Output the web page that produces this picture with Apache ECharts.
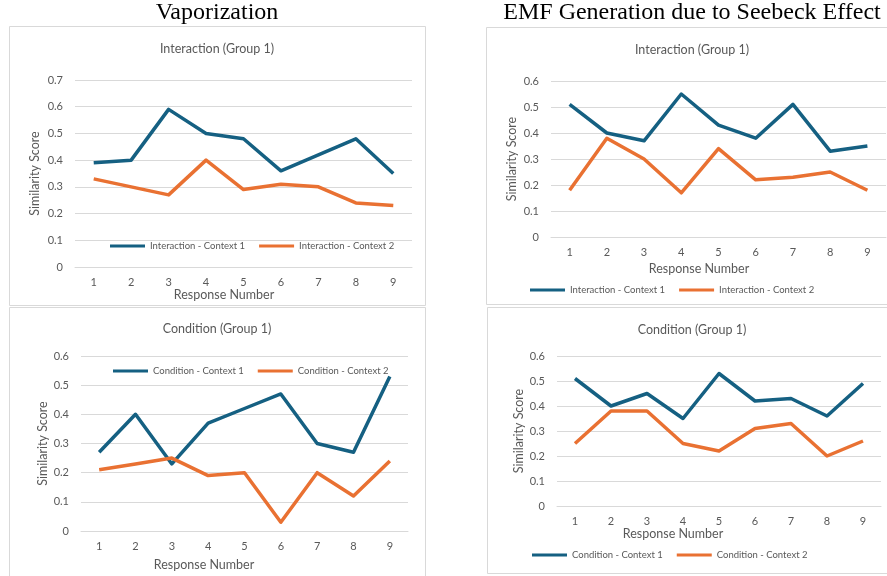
<!DOCTYPE html>
<html>
<head>
<meta charset="utf-8">
<title>Similarity Score</title>
<script src="https://cdn.jsdelivr.net/npm/echarts@6/dist/echarts.min.js"></script>
<style>
  html, body { margin: 0; padding: 0; background: #fff; }
  #main { width: 887px; height: 576px; }
</style>
</head>
<body>
<div id="main"></div>
<script>
// x categories
const responses = ['1', '2', '3', '4', '5', '6', '7', '8', '9'];

// Vaporization
const vapInteraction1 = [0.39, 0.40, 0.59, 0.50, 0.48, 0.36, 0.42, 0.48, 0.35];
const vapInteraction2 = [0.33, 0.30, 0.27, 0.40, 0.29, 0.31, 0.30, 0.24, 0.23];
const vapCondition1 = [0.27, 0.40, 0.23, 0.37, 0.42, 0.47, 0.30, 0.27, 0.53];
const vapCondition2 = [0.21, 0.23, 0.25, 0.19, 0.20, 0.03, 0.20, 0.12, 0.24];

// EMF Generation due to Seebeck Effect
const emfInteraction1 = [0.51, 0.40, 0.37, 0.55, 0.43, 0.38, 0.51, 0.33, 0.35];
const emfInteraction2 = [0.18, 0.38, 0.30, 0.17, 0.34, 0.22, 0.23, 0.25, 0.18];
const emfCondition1 = [0.51, 0.40, 0.45, 0.35, 0.53, 0.42, 0.43, 0.36, 0.49];
const emfCondition2 = [0.25, 0.38, 0.38, 0.25, 0.22, 0.31, 0.33, 0.20, 0.26];

const yMax = [0.7, 0.6, 0.6, 0.6];

const BLUE = '#156082';
const ORANGE = '#E97132';
const GRAY = '#595959';
const GRID = '#d9d9d9';
const FONT = 'Lato, "Open Sans", sans-serif';

// grid rect + text spots for each panel
const panels = [
  { left: 75, top: 80, width: 337, height: 187, yGap: 34, legendX: 110, legendY: 247, nameX: 224, nameY: 295 },
  { left: 551, top: 81, width: 335, height: 156, yGap: 33, legendX: 530, legendY: 291, nameX: 699, nameY: 269 },
  { left: 81, top: 356, width: 327, height: 175, yGap: 32, legendX: 113, legendY: 372, nameX: 204, nameY: 565 },
  { left: 557, top: 356, width: 324, height: 150, yGap: 32, legendX: 532, legendY: 556, nameX: 673, nameY: 534 }
];

const seriesDefs = [
  { name: 'Interaction - Context 1', data: vapInteraction1, p: 0, color: BLUE },
  { name: 'Interaction - Context 2', data: vapInteraction2, p: 0, color: ORANGE },
  { name: 'Interaction - Context 1', data: emfInteraction1, p: 1, color: BLUE },
  { name: 'Interaction - Context 2', data: emfInteraction2, p: 1, color: ORANGE },
  { name: 'Condition - Context 1', data: vapCondition1, p: 2, color: BLUE },
  { name: 'Condition - Context 2', data: vapCondition2, p: 2, color: ORANGE },
  { name: 'Condition - Context 1', data: emfCondition1, p: 3, color: BLUE },
  { name: 'Condition - Context 2', data: emfCondition2, p: 3, color: ORANGE }
];

const legendNames = [
  ['Interaction - Context 1', 'Interaction - Context 2'],
  ['Interaction - Context 1', 'Interaction - Context 2'],
  ['Condition - Context 1', 'Condition - Context 2'],
  ['Condition - Context 1', 'Condition - Context 2']
];

const txt = (text, x, y, size, family, color) => ({
  type: 'text', x: x, y: y, silent: true,
  style: { text: text, align: 'center', verticalAlign: 'middle', font: size + 'px ' + family, fill: color }
});
const box = (x, y, w, h) => ({
  type: 'rect', silent: true,
  shape: { x: x + 0.5, y: y + 0.5, width: w, height: h },
  style: { fill: 'none', stroke: GRID, lineWidth: 1 }
});

const option = {
  animation: false,
  backgroundColor: '#fff',
  graphic: [
    box(9, 26, 416, 279),
    box(486, 27, 410, 277),
    box(9, 307, 416, 275),
    box(487, 307, 410, 266),
    txt('Vaporization', 217, 13, 24, '"Liberation Serif", serif', '#000'),
    txt('EMF Generation due to Seebeck Effect', 692, 13, 24, '"Liberation Serif", serif', '#000'),
    txt('Interaction (Group 1)', 217, 49, 12.5, FONT, GRAY),
    txt('Interaction (Group 1)', 692, 50, 12.5, FONT, GRAY),
    txt('Condition (Group 1)', 217, 329, 12.5, FONT, GRAY),
    txt('Condition (Group 1)', 692, 330, 12.5, FONT, GRAY)
  ].concat(panels.map(p => txt('Response Number', p.nameX, p.nameY, 12.5, FONT, GRAY))),
  grid: panels.map(p => ({ left: p.left, top: p.top, width: p.width, height: p.height, containLabel: false })),
  legend: panels.map((p, i) => ({
    data: legendNames[i],
    left: p.legendX, top: p.legendY - 6,
    padding: 0,
    itemGap: 14,
    itemWidth: 35,
    itemHeight: 3,
    icon: 'rect',
    selectedMode: false,
    textStyle: { color: GRAY, fontSize: 9.5, fontFamily: FONT }
  })),
  xAxis: panels.map((p, i) => ({
    type: 'category',
    gridIndex: i,
    data: responses,
    boundaryGap: true,
    axisLine: { lineStyle: { color: GRID } },
    axisTick: { show: false },
    axisLabel: { color: GRAY, fontSize: 11, fontFamily: FONT, margin: 10 }
  })),
  yAxis: panels.map((p, i) => ({
    type: 'value',
    gridIndex: i,
    min: 0, max: yMax[i], interval: 0.1,
    name: 'Similarity Score',
    nameLocation: 'middle',
    nameGap: p.yGap,
    nameTextStyle: { color: GRAY, fontSize: 12.5, fontFamily: FONT },
    axisLine: { show: false },
    axisTick: { show: false },
    axisLabel: { color: GRAY, fontSize: 11, fontFamily: FONT, margin: 12 },
    splitLine: { lineStyle: { color: GRID, width: 1 } }
  })),
  series: seriesDefs.map(s => ({
    name: s.name,
    type: 'line',
    xAxisIndex: s.p,
    yAxisIndex: s.p,
    data: s.data,
    symbol: 'none',
    color: s.color,
    lineStyle: { width: 3.5, color: s.color, join: 'round' },
    z: 3
  }))
};

const chart = echarts.init(document.getElementById('main'));
chart.setOption(option);
</script>
</body>
</html>
